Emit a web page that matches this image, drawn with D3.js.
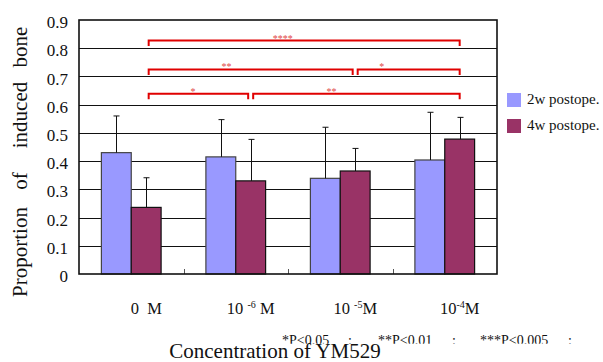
<!DOCTYPE html>
<html><head><meta charset="utf-8">
<script src="https://cdn.jsdelivr.net/npm/d3@7"></script>
<style>
html,body{margin:0;padding:0;background:#fff;}
svg{display:block;}
text{font-family:"Liberation Serif","Times New Roman",serif;white-space:pre;}
</style></head>
<body>
<svg id="chart" width="603" height="362"></svg>
<script>
// ---------- data ----------
const categories = ["0 M", "10^-6 M", "10^-5 M", "10^-4 M"];
const categoryLabelParts = [["0  M", "", ""], ["10 ", "-6", " M"], ["10 ", "-5", "M"], ["10", "-4", "M"]];
const seriesNames = ["2w postope.", "4w postope."];
const values2w = [0.43, 0.415, 0.339, 0.404];
const errors2w = [0.13, 0.132, 0.181, 0.169];
const values4w = [0.236, 0.33, 0.365, 0.478];
const errors4w = [0.105, 0.147, 0.08, 0.077];
const yTicks = [0, 0.1, 0.2, 0.3, 0.4, 0.5, 0.6, 0.7, 0.8, 0.9];
const yTickLabels = ["0", "0.1", "0.2", "0.3", "0.4", "0.5", "0.6", "0.7", "0.8", "0.9"];
const bracketFrom = [0, 0, 2, 0, 1];
const bracketTo = [3, 2, 3, 1, 3];
const bracketLevel = [0.827, 0.725, 0.725, 0.639, 0.639];
const bracketStars = ["****", "**", "*", "*", "**"];
const footnotes = ["*P<0.05", ":", "**P<0.01", ":", "***P<0.005", ":"];
const yTitleWords = ["Proportion", "of", "induced", "bone"];
const xTitle = "Concentration of YM529";

// ---------- layout ----------
const L = 79, R = 497, T = 20, B = 274;
const starFrac = [0.431, 0.382, 0.235, 0.446, 0.379];
const footX = [282, 348, 378, 452, 480, 568];
const yTitleY = [252, 181, 115, 47];
const colors = ["#9999FF", "#993366"];

const svg = d3.select("#chart");
const x0 = d3.scaleBand().domain(categories).range([L, R]).paddingInner(0).paddingOuter(0);
const x1 = d3.scaleBand().domain(seriesNames).range([0, x0.bandwidth()]).paddingInner(0).paddingOuter(0.75);
const y = d3.scaleLinear().domain([0, 0.9]).range([B, T]);

// grid lines
svg.append("g").selectAll("line").data(yTicks.filter(v => v > 0 && v < 0.9)).join("line")
  .attr("x1", L).attr("x2", R)
  .attr("y1", d => Math.round(y(d)) + 0.5).attr("y2", d => Math.round(y(d)) + 0.5)
  .attr("stroke", "#111").attr("stroke-width", 1);

// category tick marks
svg.append("g").selectAll("line").data(categories.slice(1)).join("line")
  .attr("x1", d => Math.round(x0(d)) + 0.5).attr("x2", d => Math.round(x0(d)) + 0.5)
  .attr("y1", B - 5).attr("y2", B).attr("stroke", "#555").attr("stroke-width", 1);

// bars
const series = [
  {name: seriesNames[0], vals: values2w, errs: errors2w, color: colors[0], stroke: "#444"},
  {name: seriesNames[1], vals: values4w, errs: errors4w, color: colors[1], stroke: "#111"}
];
series.forEach(s => {
  const g = svg.append("g");
  g.selectAll("rect").data(s.vals).join("rect")
    .attr("x", (d, i) => x0(categories[i]) + x1(s.name))
    .attr("y", d => y(d))
    .attr("width", x1.bandwidth())
    .attr("height", d => y(0) - y(d))
    .attr("fill", s.color).attr("stroke", s.stroke).attr("stroke-width", 1.2);
  const eg = svg.append("g").attr("stroke", "#111").attr("stroke-width", 1);
  s.vals.forEach((v, i) => {
    const cx = Math.round(x0(categories[i]) + x1(s.name) + x1.bandwidth() / 2) + 0.5;
    eg.append("line").attr("x1", cx).attr("x2", cx).attr("y1", y(v)).attr("y2", y(v + s.errs[i]));
    eg.append("line").attr("x1", cx - 3).attr("x2", cx + 3).attr("y1", y(v + s.errs[i])).attr("y2", y(v + s.errs[i]));
  });
});

// frame
svg.append("rect").attr("x", L).attr("y", T).attr("width", R - L).attr("height", B - T)
  .attr("fill", "none").attr("stroke", "#111").attr("stroke-width", 1.6);

// y axis labels
const yAxis = d3.axisLeft(y).tickValues(yTicks).tickFormat((d, i) => yTickLabels[i]).tickSize(0).tickPadding(11);
const ya = svg.append("g").attr("transform", `translate(${L},0)`).call(yAxis);
ya.select(".domain").remove();
ya.selectAll("text").attr("font-family", "Liberation Serif").attr("font-size", 17).attr("fill", "#111").attr("dy", "0.45em");

// x axis labels
const mc = i => x0(categories[i]) + x1(seriesNames[1]) + x1.bandwidth() / 2;
const xl = svg.append("g");
categories.forEach((c, i) => {
  const p = categoryLabelParts[i];
  const t = xl.append("text").attr("x", x0(c) + x0.bandwidth() / 2 + 15).attr("y", 313.5)
    .attr("text-anchor", "middle").attr("font-size", 16.5).attr("fill", "#111");
  t.append("tspan").text(p[0]);
  if (p[1]) {
    t.append("tspan").attr("font-size", 10).attr("dy", -6).text(p[1]);
    t.append("tspan").attr("dy", 6).text(p[2]);
  }
});

// significance brackets
const bg = svg.append("g");
bracketFrom.forEach((f, i) => {
  const to = bracketTo[i];
  const xa = mc(f) + 2.5, xb = mc(to) - (to < categories.length - 1 ? 2.5 : 0);
  const yy = y(bracketLevel[i]);
  bg.append("path").attr("d", `M${xa},${yy + 5.5}V${yy}H${xb}V${yy + 5.5}`)
    .attr("fill", "none").attr("stroke", "#e00000").attr("stroke-width", 2);
  bg.append("text").attr("x", xa + (xb - xa) * starFrac[i]).attr("y", yy + 1)
    .attr("text-anchor", "middle").attr("font-size", 10).attr("fill", "#e04848").text(bracketStars[i]);
});

// legend
const lg = svg.append("g");
seriesNames.forEach((n, i) => {
  lg.append("rect").attr("x", 507).attr("y", 93 + i * 26).attr("width", 14).attr("height", 14).attr("fill", colors[i]);
  lg.append("text").attr("x", 527).attr("y", 104 + i * 26).attr("font-size", 15).attr("fill", "#111").text(n);
});

// y title
yTitleWords.forEach((w, i) => {
  svg.append("text").attr("transform", `translate(27,${yTitleY[i]}) rotate(-90)`)
    .attr("text-anchor", "middle").attr("font-size", 21).attr("fill", "#111").text(w);
});

// footnote (clipped at bottom, as in the reference)
svg.append("clipPath").attr("id", "fclip").append("rect").attr("x", 0).attr("y", 320).attr("width", 603).attr("height", 23.8);
const fg = svg.append("g").attr("clip-path", "url(#fclip)");
footnotes.forEach((f, i) => {
  fg.append("text").attr("x", footX[i]).attr("y", 345).attr("font-size", 14).attr("fill", "#111").text(f);
});

// x title
svg.append("text").attr("x", 275).attr("y", 357.5).attr("text-anchor", "middle")
  .attr("font-size", 21).attr("fill", "#111").text(xTitle);
</script>
</body></html>
